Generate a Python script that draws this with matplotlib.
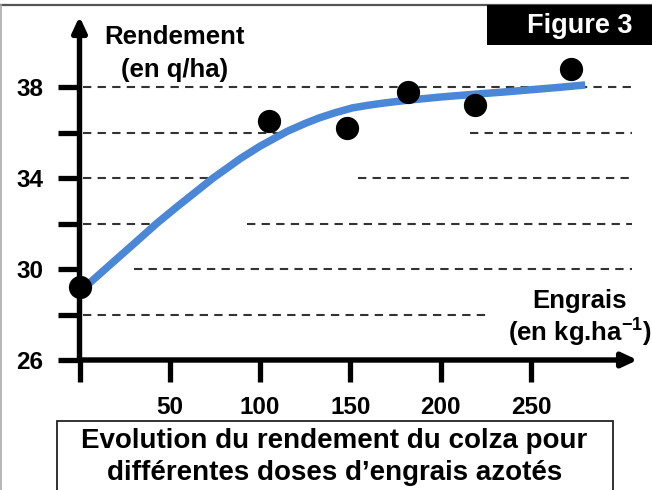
import matplotlib
matplotlib.use("Agg")
import matplotlib.pyplot as plt
from matplotlib.patches import Rectangle
from matplotlib.lines import Line2D

plt.rcParams['font.family'] = ['Liberation Sans', 'DejaVu Sans']
plt.rcParams['font.weight'] = 'bold'
plt.rcParams['mathtext.fontset'] = 'custom'
plt.rcParams['mathtext.rm'] = 'Liberation Sans:bold'
plt.rcParams['mathtext.bf'] = 'Liberation Sans:bold'
plt.rcParams['mathtext.it'] = 'Liberation Sans:bold'
plt.rcParams['mathtext.default'] = 'bf'
plt.rcParams['lines.scale_dashes'] = False

# ---- data ----
dose_points = [0, 105, 148, 182, 219, 272]
yield_points = [29.2, 36.5, 36.2, 37.8, 37.2, 38.8]

curve_x = [2, 7.5, 20, 30, 43, 55, 65, 74, 82, 89, 100, 115, 125, 133, 142, 151,
           160, 170, 183, 200, 220, 235, 250, 265, 280]
curve_y = [29.13, 29.52, 30.4, 31.1, 32.02, 32.8, 33.43, 34.0, 34.45, 34.85, 35.40,
           36.05, 36.40, 36.65, 36.88, 37.08, 37.20, 37.31, 37.43, 37.56, 37.69,
           37.78, 37.88, 37.98, 38.09]

x_ticks = [0, 50, 100, 150, 200, 250]
x_tick_labels = ['', '50', '100', '150', '200', '250']
y_ticks = [26, 28, 30, 32, 34, 36, 38]
y_tick_labels = ['26', '', '30', '', '34', '', '38']

# dashed guide lines (level, start, end)
grid_segments = [
    (38, 2, 306), (36, 2, 112), (36, 216, 306), (34, 2, 74), (34, 154, 306),
    (32, 2, 43), (32, 93, 306), (30, 30, 306), (28, 2, 226),
]

W, H = 652, 490
fig = plt.figure(figsize=(W / 100, H / 100), dpi=100)
fig.patch.set_facecolor('white')

x0px, y0px = 79.5, 360
pxx, pxy = 1.806, 22.75
xmax, ymax = 312, 41.3
ax = fig.add_axes([x0px / W, (H - y0px) / H, xmax * pxx / W, (ymax - 26) * pxy / H])
ax.set_xlim(0, xmax)
ax.set_ylim(26, ymax)
for s in ax.spines.values():
    s.set_visible(False)
ax.patch.set_alpha(0)

for lvl, a, b in grid_segments:
    ax.plot([a, b], [lvl, lvl], color='#333333', lw=1.5, dashes=(6, 4.5), zorder=1)

ax.plot(curve_x, curve_y, color='#4a87d6', lw=5.4, solid_capstyle='butt',
        solid_joinstyle='round', zorder=3)
ax.scatter(dose_points, yield_points, s=280, color='black', zorder=6, clip_on=False, linewidths=0)

arrow_kw = dict(arrowstyle='-|>,head_length=9,head_width=4.2', lw=3.9, color='black',
                mutation_scale=1, shrinkA=0, shrinkB=0)
ax.annotate('', xy=(0, 41.1), xytext=(0, 26), xycoords='data', arrowprops=arrow_kw,
            annotation_clip=False, zorder=4)
ax.annotate('', xy=(309, 26), xytext=(0, 26), xycoords='data', arrowprops=arrow_kw,
            annotation_clip=False, zorder=4)

ax.set_xticks(x_ticks)
ax.set_xticklabels(x_tick_labels)
ax.set_yticks(y_ticks)
ax.set_yticklabels(y_tick_labels)
ax.tick_params(axis='both', direction='out', length=15.5, width=3.8, color='black',
               labelsize=17.5, pad=10.5)
for lab in ax.get_xticklabels() + ax.get_yticklabels():
    lab.set_fontweight('bold')

def fx(px):
    return px / W

def fy(py):
    return 1 - py / H

fig.text(fx(174.5), fy(37), 'Rendement', ha='center', va='center', fontsize=18.5, fontweight='bold')
fig.text(fx(174.5), fy(70), '(en q/ha)', ha='center', va='center', fontsize=18.5, fontweight='bold')
fig.text(fx(580), fy(301), 'Engrais', ha='center', va='center', fontsize=18.5, fontweight='bold')
fig.text(fx(580), fy(333), '(en kg.ha$^{-1}$)', ha='center', va='center', fontsize=18.5,
         fontweight='bold')

# Figure 3 tag
fig.patches.append(Rectangle((fx(487), fy(45)), 1.0, 40 / H, transform=fig.transFigure,
                             facecolor='black', edgecolor='none', zorder=2))
fig.text(fx(580), fy(26), 'Figure 3', ha='center', va='center', fontsize=19.5,
         fontweight='bold', color='white', zorder=3)

# caption box
fig.patches.append(Rectangle((fx(56.5), -0.05), (613 - 56.5) / W, (H - 421) / H + 0.05,
                             transform=fig.transFigure, facecolor='none',
                             edgecolor='#222222', lw=1.3, zorder=2))
fig.text(fx(334.5), fy(448), 'Evolution du rendement du colza pour', ha='center', va='baseline',
         fontsize=20, fontweight='bold')
fig.text(fx(334.5), fy(480), 'différentes doses d\u2019engrais azotés', ha='center', va='baseline',
         fontsize=20, fontweight='bold')

# outer frame lines
fig.lines.append(Line2D([0, 1], [fy(5), fy(5)], transform=fig.transFigure, color='#555555', lw=1.6))
fig.lines.append(Line2D([fx(1), fx(1)], [0, fy(5)], transform=fig.transFigure, color='#aaaaaa', lw=1.2))

fig.savefig('out.png', dpi=100)
